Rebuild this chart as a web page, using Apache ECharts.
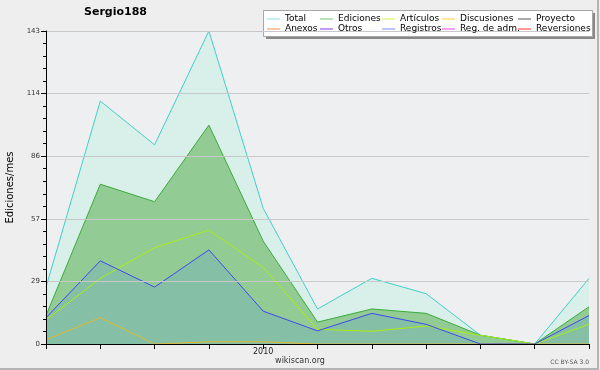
<!DOCTYPE html>
<html><head><meta charset="utf-8">
<script src="https://cdn.jsdelivr.net/npm/echarts@6/dist/echarts.min.js"></script>
<style>html,body{margin:0;padding:0;background:#eeeeee}#c{width:600px;height:370px}</style>
</head><body><div id="c"></div>
<script>
var months = ['2009-09','2009-10','2009-11','2009-12','2010-01','2010-02','2010-03','2010-04','2010-05','2010-06','2010-07'];
var yTicks = [0, 29, 57, 86, 114, 143];
var total = [26, 111, 91, 143, 62, 16, 30, 23, 4, 0, 30];
var ediciones = [13, 73, 65, 100, 47, 10, 16, 14, 4, 0, 17];
var articulos = [11, 30, 44, 52, 35, 6.7, 5.8, 8.2, 4, 0, 9];
var discusiones = [2, 12, 0, 1, 1, 0, 0, 0, 0, 0, 0];
var registros = [12, 38, 26, 43, 15, 6, 14, 9, 0, 0, 13];
var proyecto = [], anexos = [], otros = [], regAdm = [], reversiones = [];

var legendColors = {
  'Total':'#88e0e0','Ediciones':'#70c470','Artículos':'#ccf050','Discusiones':'#ffcc33','Proyecto':'#555555',
  'Anexos':'#ff8844','Otros':'#8833ee','Registros':'#7788ff','Reg. de adm.':'#ee44ee','Reversiones':'#ff3333'
};
var columns = [['Total','Anexos'],['Ediciones','Otros'],['Artículos','Registros'],['Discusiones','Reg. de adm.'],['Proyecto','Reversiones']];
var colLeft = [267, 320, 382, 442, 518];

function mkLine(name, data, color, fill) {
  var s = {
    name: name, type: 'line', data: data, showSymbol: false, symbol: 'none', silent: true,
    color: color, lineStyle: {color: color, width: 1}, animation: false
  };
  if (fill) s.areaStyle = {color: fill, opacity: 1};
  return s;
}

var chart = echarts.init(document.getElementById('c'));
chart.setOption({
  backgroundColor: '#eeeeee',
  animation: false,
  title: {text: 'Sergio188', left: 84, top: 7, padding: 0,
    textStyle: {fontFamily: 'DejaVu Sans', fontSize: 11, fontWeight: 'bold', color: '#000'}},
  legend: columns.map(function(col, i){
    return {
      orient: 'vertical', left: colLeft[i], top: 14, padding: 0, itemGap: 0,
      itemWidth: 13, itemHeight: 1, icon: 'rect', selectedMode: false, z: 10,
      textStyle: {fontFamily: 'DejaVu Sans', fontSize: 9, color: '#000', lineHeight: 10},
      data: col.map(function(n){ return {name: n, itemStyle: {color: legendColors[n]}}; })
    };
  }),
  grid: {left: 46, top: 31, right: 11, bottom: 26, containLabel: false, outerBoundsMode: 'none',
    show: true, backgroundColor: '#eeeff0', borderWidth: 0},
  xAxis: {
    type: 'category', data: months, boundaryGap: false, z: 10,
    axisLine: {lineStyle: {color: '#000', width: 1}},
    axisTick: {show: true, length: 5, interval: 0, lineStyle: {color: '#000', width: 1}},
    axisLabel: {interval: 0, margin: 4, fontFamily: 'DejaVu Sans', fontSize: 8, color: '#222',
      formatter: function(v){ return v === '2010-01' ? '2010' : ''; }},
    splitLine: {show: false}
  },
  yAxis: {
    type: 'value', min: 0, max: 143, interval: 28.6, z: 10,
    name: 'Ediciones/mes', nameLocation: 'middle', nameGap: 31, nameRotate: 90,
    nameTextStyle: {fontFamily: 'DejaVu Sans', fontSize: 10, color: '#000'},
    axisLine: {show: true, lineStyle: {color: '#000', width: 1}},
    axisTick: {show: true, length: 5, lineStyle: {color: '#000', width: 1}},
    minorTick: {show: true, splitNumber: 5, length: 3, lineStyle: {color: '#000'}},
    axisLabel: {margin: 6, fontFamily: 'DejaVu Sans', fontSize: 7, color: '#333',
      formatter: function(v){ var r = Math.round(v); return yTicks.indexOf(r) >= 0 ? String(r) : ''; }},
    splitLine: {show: true, lineStyle: {color: '#c8c8c8', width: 1}}
  },
  series: [
    mkLine('Total', total, '#3fd0c8', 'rgba(133,244,210,0.2)'),
    mkLine('Ediciones', ediciones, '#3aab3a', 'rgba(77,166,64,0.5)'),
    mkLine('Artículos', articulos, '#aaee11'),
    mkLine('Discusiones', discusiones, '#e0b830'),
    mkLine('Proyecto', proyecto, '#555555'),
    mkLine('Anexos', anexos, '#ff8844'),
    mkLine('Otros', otros, '#8833ee'),
    mkLine('Registros', registros, '#4048f0', 'rgba(82,143,234,0.2)'),
    mkLine('Reg. de adm.', regAdm, '#ee44ee'),
    mkLine('Reversiones', reversiones, '#ff3333')
  ],
  graphic: [
    {type: 'rect', z: 5, shape: {x: 266, y: 13, width: 329, height: 26}, style: {fill: '#888888'}},
    {type: 'rect', z: 6, shape: {x: 263.5, y: 10.5, width: 329, height: 26}, style: {fill: '#ffffff', stroke: '#a8a8a8', lineWidth: 1}},
    {type: 'text', z: 6, x: 300, y: 361, style: {text: 'wikiscan.org', fontFamily: 'DejaVu Sans', fontSize: 8, fill: '#333', align: 'center', verticalAlign: 'middle'}},
    {type: 'text', z: 6, x: 589, y: 362, style: {text: 'CC BY-SA 3.0', fontFamily: 'DejaVu Sans', fontSize: 6, fill: '#555', align: 'right', verticalAlign: 'middle'}},
    {type: 'rect', z: 6, shape: {x: 597, y: 0, width: 2, height: 370}, style: {fill: '#b4b4b4'}},
    {type: 'rect', z: 6, shape: {x: 0, y: 368, width: 599, height: 2}, style: {fill: '#b4b4b4'}}
  ]
});
</script></body></html>
